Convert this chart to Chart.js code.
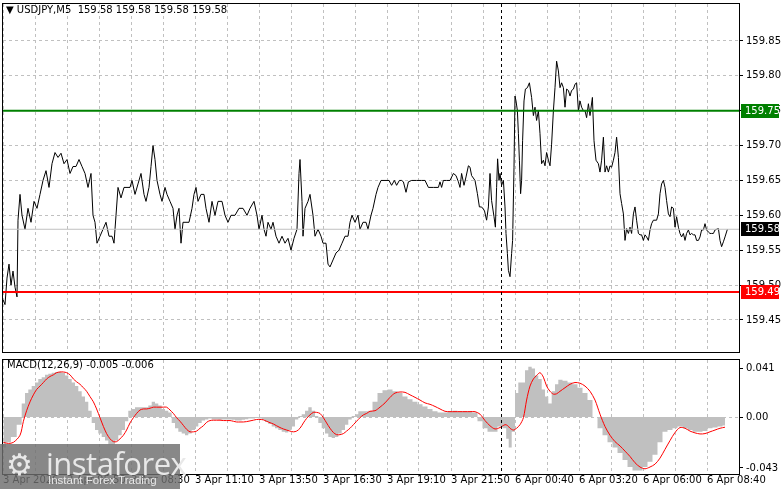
<!DOCTYPE html>
<html><head><meta charset="utf-8">
<script src="https://cdn.jsdelivr.net/npm/chart.js@4"></script>
<style>
html,body{margin:0;padding:0;background:#fff;width:781px;height:489px;overflow:hidden;font-family:"DejaVu Sans",sans-serif;position:relative}
canvas{position:absolute;left:0}
#c1{top:-5px}
#c2{top:351px}
.t{position:absolute;font-size:10px;color:#000;white-space:nowrap}
#title{left:6px;top:4px}
#macdt{left:7px;top:359px}
#logo{position:absolute;left:0;top:444px;width:180px;height:45px;background:rgba(110,110,110,0.82);color:#e8e8e8}
#logo .big{position:absolute;left:46px;top:-2px;font-size:31px;font-family:"Open Sans",sans-serif;letter-spacing:-0.5px}
#logo .small{position:absolute;left:48px;top:30px;font-size:11.5px;font-family:"Liberation Sans",sans-serif}
#logo .gear{position:absolute;left:6px;top:6px;font-size:30px;line-height:30px}
</style></head><body>
<canvas id="c1" width="781" height="366" style="width:781px;height:366px"></canvas>
<canvas id="c2" width="781" height="146" style="width:781px;height:146px"></canvas>
<div class="t" id="title">▼ USDJPY,M5&nbsp; 159.58 159.58 159.58 159.58</div>
<div class="t" id="macdt">MACD(12,26,9) -0.005 -0.006</div>
<div id="logo"><span class="gear">⚙</span><span class="big">instaforex</span><span class="small">Instant Forex Trading</span></div>
<script>
// ---- data (x = 5-minute bar index from 3 Apr 2026 start) ----
const priceBars = [0,1,2,3,4,5,6,7,7.5,8.5,9.5,11,12.5,14,15.5,17,18.5,20,21.5,23,24.5,26,27.5,29,30.5,32,33.5,35,36.5,38,39.5,41,42.5,44,45,46,47,48.5,50,51.5,53,54.5,55.5,56.5,57.5,59,60.5,62,63.5,64.5,66,67.5,69,70.5,71.5,73,74,75,76,77,78.5,79.5,81,82,83.5,85,86,87,88,89,90,91.5,93,94.5,95.5,96.5,97.5,99,100.5,101.5,103,104.5,106,107.5,109.5,111,112.5,114,116,118,120,122,123.5,125.5,127,128,129.5,130.5,131.5,132.5,134,135,136.5,138,139.5,141,142.5,144,145.5,147,148,148.5,149.5,150,151,152.5,153.5,155,156,157.5,159,160,161.5,162.5,163.5,165,166.5,168,169.5,171,172.5,173.5,174.5,176,177.5,178.5,180,181.5,182.5,184,185,186.5,187.5,189,191,193,
194.3,195.7,196.8,198.2,199.3,200.2,201.5,202.7,204.3,206.8,209.3,211,212.7,215.2,217.7,218.5,219.3,220.2,221.8,223.5,225.2,226.5,227.7,228.5,229.3,230.5,231.5,232.7,233.5,234.3,236,237.2,238.2,239.3,240.7,241.8,242.7,243.5,244.3,245.5,246.2,246.8,247.3,248,248.5,249.3,250.2,251,251.5,252.2,252.7,253.5,254.3,254.8,255.5,256,256.5,257.2,257.7,258.2,258.8,259.3,259.8,260.5,261.2,262.2,263.2,264.3,265.2,266,266.8,267.7,268.5,269.3,270.2,271,271.8,272.7,273.5,274.3,275.2,276,276.8,277.7,278.5,279.3,280.2,281,281.8,282.7,283.5,284.3,285.2,286,286.8,287.7,288.5,289.3,290.2,291,291.8,292.7,293.5,294.7,295.5,296.5,297.7,298.5,299.3,300.2,301,301.8,302.7,303.5,304.3,305.2,306,306.8,307.7,308.5,309.3,310.2,311,311.8,312.7,313.5,314.3,315.2,316,316.8,317.7,318.5,319.3,320.2,321,321.8,322.7,323.5,324.3,325.2,326,326.8,327.7,328.5,329.3,330.2,331,331.8,332.7,333.5,334.3,335.2,336,336.8,337.7,338.5,339.3,340.2,341,341.8,342.7,343.5,344.3,345.2,346,346.8,347.7,348.5,349.3,350.2,351,351.8,352.7,353.5,354.3,355.2,356,357.7,358.5,359.3,360.2,361,362.2];
const priceValues = [159.479,159.472,159.51,159.53,159.50,159.52,159.497,159.483,159.593,159.63,159.60,159.58,159.61,159.59,159.62,159.61,159.63,159.65,159.664,159.64,159.674,159.69,159.683,159.689,159.674,159.68,159.66,159.67,159.67,159.68,159.67,159.66,159.64,159.66,159.60,159.59,159.56,159.57,159.58,159.59,159.57,159.57,159.56,159.60,159.64,159.625,159.64,159.64,159.64,159.65,159.63,159.645,159.66,159.63,159.62,159.64,159.67,159.70,159.68,159.65,159.63,159.62,159.64,159.63,159.62,159.61,159.58,159.60,159.61,159.56,159.59,159.59,159.59,159.61,159.63,159.64,159.62,159.63,159.63,159.61,159.59,159.62,159.60,159.62,159.62,159.60,159.59,159.60,159.60,159.61,159.61,159.60,159.61,159.62,159.60,159.58,159.60,159.58,159.57,159.59,159.58,159.59,159.57,159.56,159.57,159.56,159.567,159.55,159.567,159.58,159.66,159.68,159.62,159.57,159.61,159.62,159.63,159.60,159.57,159.58,159.57,159.56,159.56,159.53,159.526,159.536,159.546,159.55,159.56,159.57,159.57,159.59,159.60,159.59,159.60,159.58,159.59,159.59,159.58,159.60,159.61,159.63,159.64,159.65,159.65,159.65,
159.643,159.65,159.643,159.65,159.65,159.648,159.633,159.648,159.65,159.65,159.65,159.65,159.64,159.64,159.64,159.648,159.64,159.65,159.65,159.65,159.66,159.657,159.648,159.64,159.66,159.643,159.655,159.671,159.669,159.657,159.65,159.631,159.612,159.612,159.607,159.593,159.612,159.66,159.621,159.598,159.583,159.64,159.681,159.65,159.66,159.643,159.65,159.612,159.574,159.545,159.521,159.512,159.545,159.564,159.669,159.771,159.764,159.75,159.717,159.679,159.631,159.65,159.707,159.764,159.781,159.783,159.79,159.769,159.743,159.755,159.736,159.75,159.717,159.674,159.679,159.671,159.69,159.679,159.671,159.702,159.75,159.783,159.821,159.807,159.783,159.79,159.783,159.755,159.781,159.779,159.771,159.779,159.781,159.788,159.79,159.75,159.764,159.755,159.75,159.75,159.74,159.76,159.743,159.769,159.707,159.679,159.674,159.662,159.679,159.712,159.662,159.671,159.662,159.671,159.669,159.679,159.69,159.712,159.683,159.631,159.617,159.602,159.564,159.581,159.574,159.583,159.574,159.602,159.612,159.593,159.574,159.572,159.572,159.564,159.572,159.569,159.564,159.579,159.588,159.593,159.593,159.593,159.602,159.631,159.645,159.65,159.64,159.621,159.602,159.598,159.612,159.61,159.583,159.598,159.583,159.574,159.569,159.574,159.564,159.574,159.579,159.572,159.574,159.572,159.572,159.564,159.564,159.569,159.579,159.579,159.588,159.579,159.576,159.574,159.574,159.574,159.579,159.581,159.564,159.555,159.562,159.569,159.58];
const macdBars = [0.2,2.7,5.2,8.5,10.2,11.8,13.5,15.2,16.8,18.5,20.2,21.8,23.5,25.2,26.8,28.5,30.2,31.8,33.5,35.2,36.8,38.5,40.2,41.8,43.5,45.2,46.8,48.5,50.2,51.8,53.5,55.2,56.8,58.5,60.2,61.8,63.5,65.2,66.8,68.5,70.2,71.8,73.5,75.2,76.8,78.5,80.2,81.8,83.5,85.2,86.8,88.5,90.2,91.8,93.5,95.2,96.8,98.5,100.2,101.8,103.5,105.2,106.8,108.5,110.2,111.8,113.5,115.2,116.8,118.5,120.2,121.8,123.5,125.2,126.8,128.5,130.2,131.8,133.5,135.2,136.8,138.5,140.2,141.8,143.5,145.2,146.8,148.5,150.2,151.8,153.5,155.2,156.8,158.5,160.2,161.8,163.5,165.2,166.8,168.5,170.2,171.8,173.5,175.2,176.8,178.5,180.2,181.8,
183.5,186,188.5,191,193.5,196,198.5,201,203.5,206,208.5,211,213.5,216,218.5,221,223.5,226,228.5,231,233.5,236,238.5,241,243.5,246,248.5,251,252.2,253.5,255.2,256.8,258.5,260.2,261.8,263.5,265.2,266.8,268.5,270.2,271.8,273.5,275.2,276.8,278.5,281,283.5,286,288.5,291,293.5,296,298.5,301,303.5,306,308.5,311,313.5,316,318.5,321,323.5,326,328.5,331,333.5,336,338.5,341,343.5,346,348.5,351,353.5,356,358.5,361];
const macdMain = [-0.0258,-0.0214,-0.0169,-0.0065,0.0113,0.0202,0.0232,0.0261,0.0291,0.0321,0.0336,0.0356,0.0365,0.0374,0.038,0.038,0.0374,0.035,0.0321,0.0291,0.0261,0.0217,0.0172,0.0128,0.0053,-0.005,-0.011,-0.014,-0.0169,-0.0199,-0.0229,-0.0229,-0.0199,-0.0154,-0.011,-0.0036,0.0053,0.0068,0.0083,0.0083,0.0083,0.0083,0.0098,0.0128,0.0113,0.0098,0.0068,0.0053,0.0039,-0.005,-0.0095,-0.0125,-0.014,-0.0154,-0.014,-0.011,-0.008,-0.005,-0.003,-0.0021,-0.0012,-0.0021,-0.0021,-0.0024,-0.0021,-0.0021,-0.0021,-0.0024,-0.003,-0.003,-0.0024,-0.0018,-0.0012,-0.0012,-0.0006,-0.0012,-0.0024,-0.0042,-0.0059,-0.008,-0.0095,-0.011,-0.0125,-0.0131,-0.011,-0.008,-0.0021,0.0009,0.0024,0.0053,0.0083,0.0053,0.0009,-0.005,-0.0095,-0.014,-0.0169,-0.0178,-0.0169,-0.014,-0.011,-0.0065,-0.0021,0.0009,0.0024,0.0048,0.0048,0.0048,
0.0053,0.0128,0.0202,0.0226,0.0232,0.0217,0.0202,0.0172,0.0149,0.0128,0.0107,0.0089,0.0068,0.0048,0.0039,0.0039,0.0048,0.0053,0.0048,0.0048,0.0048,0.0039,-0.0036,-0.0095,-0.0125,-0.0125,-0.008,-0.0095,-0.0184,-0.0258,-0.0125,0.0202,0.0291,0.0291,0.0395,0.0425,0.041,0.035,0.0321,0.0232,0.0172,0.0113,0.0217,0.0276,0.0315,0.0306,0.0291,0.0276,0.0247,0.0202,0.0143,0,-0.0095,-0.0154,-0.0214,-0.0258,-0.0303,-0.0362,-0.0422,-0.0451,-0.0451,-0.0422,-0.0377,-0.0318,-0.0214,-0.0125,-0.011,-0.0095,-0.008,-0.0095,-0.011,-0.0125,-0.0125,-0.0119,-0.0095,-0.0089,-0.008,-0.0071];
const macdSignal = [-0.0214,-0.0223,-0.0214,-0.0154,-0.0036,0.0053,0.0128,0.0187,0.0232,0.0261,0.0291,0.0321,0.0342,0.0356,0.0374,0.038,0.038,0.0374,0.0356,0.0321,0.0297,0.0276,0.0247,0.0217,0.0172,0.0128,0.0068,-0.0006,-0.008,-0.014,-0.0184,-0.0208,-0.0208,-0.0184,-0.0154,-0.011,-0.005,-0.0006,0.003,0.0059,0.0068,0.0068,0.0074,0.0083,0.0083,0.0083,0.0083,0.0083,0.0059,0.003,-0.0006,-0.0036,-0.0071,-0.0104,-0.0125,-0.0125,-0.0119,-0.0095,-0.0074,-0.0045,-0.003,-0.0027,-0.0027,-0.0027,-0.003,-0.003,-0.003,-0.0036,-0.0042,-0.0042,-0.0042,-0.0039,-0.0033,-0.0027,-0.0021,-0.0021,-0.0024,-0.0036,-0.0048,-0.0059,-0.0074,-0.0089,-0.0101,-0.011,-0.0119,-0.0125,-0.0119,-0.0095,-0.005,-0.0012,0.0018,0.0039,0.0039,0.003,-0.0006,-0.005,-0.0095,-0.0131,-0.0149,-0.0149,-0.014,-0.0119,-0.0095,-0.0065,-0.0036,-0.0006,0.0018,0.003,
0.0048,0.0053,0.0083,0.0119,0.0166,0.0202,0.0211,0.0208,0.0187,0.0166,0.0143,0.0119,0.0107,0.0089,0.0068,0.0048,0.0045,0.0045,0.0045,0.0045,0.0045,0.0045,0.0024,-0.003,-0.0074,-0.0101,-0.0089,-0.0065,-0.0071,-0.0095,-0.011,-0.0095,-0.0065,-0.0006,0.0143,0.0261,0.0321,0.035,0.0374,0.0336,0.0261,0.0217,0.0193,0.0196,0.0217,0.0247,0.0276,0.0291,0.0285,0.0261,0.0217,0.0143,0.0024,-0.008,-0.0154,-0.0208,-0.0244,-0.0288,-0.0333,-0.0386,-0.0422,-0.0437,-0.0422,-0.0398,-0.0347,-0.0273,-0.0199,-0.0131,-0.0089,-0.0095,-0.0119,-0.0134,-0.0143,-0.014,-0.0125,-0.011,-0.0095,-0.0086];
const priceTicks = [159.45,159.50,159.55,159.60,159.65,159.70,159.75,159.80,159.85];
const resistance = 159.75, support = 159.49, lastPrice = 159.58;
const macdTicks = [0.041,0,-0.043];
const timeLabels = ['3 Apr 2026','3 Apr 05:50','3 Apr 08:30','3 Apr 11:10','3 Apr 13:50','3 Apr 16:30','3 Apr 19:10','3 Apr 21:50','6 Apr 00:40','6 Apr 03:20','6 Apr 06:00','6 Apr 08:40'];
const barsPerLabel = 32, barsPerGrid = 16, sessionBreak = 249;
const xMin = 0, xMax = 368;

const FONT = {family:'"DejaVu Sans", sans-serif', size:10};
const pts = (xs, ys) => xs.map((x,i)=>({x, y: ys[i]}));
const hline = v => [{x:xMin,y:v},{x:xMax,y:v}];

function frame(){
  return {id:'frame', afterDraw(c){
    const a=c.chartArea, ctx=c.ctx; ctx.save(); ctx.strokeStyle='#000'; ctx.lineWidth=1;
    ctx.strokeRect(Math.floor(a.left)-0.5, Math.floor(a.top)-0.5, Math.round(a.right-a.left)+1, Math.round(a.bottom-a.top)+1);
    const x=Math.round(c.scales.x.getPixelForValue(sessionBreak))+0.5;
    ctx.setLineDash([3,3]); ctx.beginPath(); ctx.moveTo(x,a.top); ctx.lineTo(x,a.bottom); ctx.stroke();
    ctx.restore();
  }};
}
const gridTicks = s => { s.ticks=[]; for(let v=xMin; v<=352; v+=barsPerGrid) s.ticks.push({value:v}); };

const labelBoxes = {id:'boxes', afterDraw(c){
  const ctx=c.ctx, y=c.scales.y, a=c.chartArea;
  [[resistance,'#008000','#fff'],[support,'#ff0000','#fff'],[lastPrice,'#000','#fff']].forEach(([v,bg,fg])=>{
    const py=Math.round(y.getPixelForValue(v));
    ctx.fillStyle=bg; ctx.fillRect(a.right+2, py-7, 38, 14);
    ctx.fillStyle=fg; ctx.font='10px "DejaVu Sans", sans-serif'; ctx.textBaseline='middle'; ctx.textAlign='left';
    ctx.fillText(v.toFixed(2), a.right+6, py+0.5);
  });
}};

new Chart(document.getElementById('c1'), {
  type:'line',
  data:{datasets:[
    {data:hline(lastPrice), borderColor:'#c0c0c0', borderWidth:1, pointRadius:0},
    {data:hline(resistance), borderColor:'#008000', borderWidth:2, pointRadius:0},
    {data:hline(support), borderColor:'#ff0000', borderWidth:2, pointRadius:0},
    {data:pts(priceBars, priceValues), borderColor:'#000', borderWidth:1, pointRadius:0, tension:0}
  ]},
  options:{responsive:false, animation:false, events:[],
    layout:{padding:{top:3,left:3,bottom:3,right:0}},
    plugins:{legend:{display:false}, tooltip:{enabled:false}},
    scales:{
      x:{type:'linear', min:xMin, max:xMax, afterBuildTicks:gridTicks, afterFit:s=>{s.height=0;},
        ticks:{display:false}, grid:{color:'#c0c0c0', drawTicks:false}, border:{display:false, dash:[3,3]}},
      y:{position:'right', min:159.404, max:159.903, afterFit:s=>{s.width=42;},
        afterBuildTicks:s=>{s.ticks=priceTicks.map(v=>({value:v}));},
        ticks:{color:'#000', font:FONT, padding:3, callback:v=>v.toFixed(2)},
        grid:{color:'#c0c0c0', tickLength:4, tickColor:'#000'}, border:{display:false, dash:[3,3]}}
    }},
  plugins:[frame(), labelBoxes]
});

new Chart(document.getElementById('c2'), {
  type:'line',
  data:{datasets:[
    {data:pts(macdBars, macdSignal), borderColor:'#ff0000', borderWidth:1, pointRadius:0, tension:0.3},
    {data:pts(macdBars, macdMain), borderWidth:0, backgroundColor:'#c0c0c0', fill:'origin', stepped:'middle', pointRadius:0}
  ]},
  options:{responsive:false, animation:false, events:[],
    layout:{padding:{top:3,left:3,bottom:0,right:0}},
    plugins:{legend:{display:false}, tooltip:{enabled:false}},
    scales:{
      x:{type:'linear', min:xMin, max:xMax, afterBuildTicks:gridTicks, afterFit:s=>{s.height=23;},
        ticks:{color:'#000', font:FONT, align:'start', maxRotation:0, autoSkip:false, padding:0,
          callback:v=> v % barsPerLabel === 0 ? timeLabels[v/barsPerLabel] : ''},
        grid:{color:'#c0c0c0', drawTicks:false}, border:{display:false, dash:[3,3]}},
      y:{position:'right', min:-0.0481, max:0.0481, afterFit:s=>{s.width=42;},
        afterBuildTicks:s=>{s.ticks=macdTicks.map(v=>({value:v}));},
        ticks:{color:'#000', font:FONT, padding:3, callback:v=> v===0?'0.00':v.toFixed(3)},
        grid:{color:c=> c.tick && c.tick.value===0 ? '#c0c0c0' : 'rgba(0,0,0,0)', tickLength:4, tickColor:'#000'}, border:{display:false, dash:[3,3]}}
    }},
  plugins:[frame()]
});
</script>
</body></html>
